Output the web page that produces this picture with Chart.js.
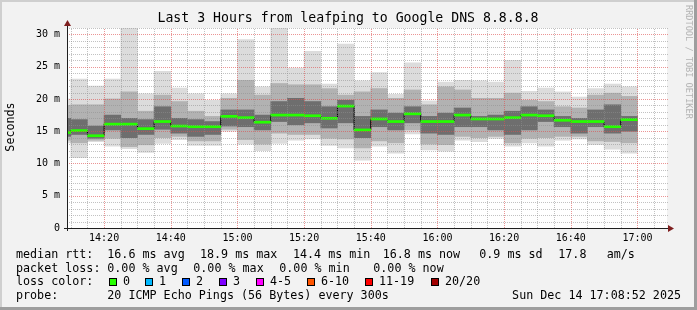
<!DOCTYPE html>
<html>
<head>
<meta charset="utf-8">
<script src="https://cdn.jsdelivr.net/npm/chart.js@4.4.1/dist/chart.umd.min.js"></script>
<style>
  html, body { margin: 0; padding: 0; background: #f2f2f2; }
  #wrap { width: 697px; height: 310px; }
</style>
</head>
<body>
<div id="wrap"><canvas id="smokeChart" width="697" height="310"></canvas></div>
<script>
// 5 minute slots (end time of each slot)
const slotEnds = ['14:10', '14:15', '14:20', '14:25', '14:30', '14:35', '14:40', '14:45', '14:50', '14:55',
    '15:00', '15:05', '15:10', '15:15', '15:20', '15:25', '15:30', '15:35', '15:40', '15:45',
    '15:50', '15:55', '16:00', '16:05', '16:10', '16:15', '16:20', '16:25', '16:30', '16:35',
    '16:40', '16:45', '16:50', '16:55', '17:00'];

// rtt in ms
const rttMedian = [14.8, 15.1, 14.3, 16.1, 16.1, 15.4, 16.5, 15.8, 15.7, 15.7, 17.3, 17.1, 16.4, 17.5, 17.5, 17.4, 17.0, 18.9, 15.2, 16.9,
    16.5, 17.7, 16.5, 16.5, 17.5, 16.9, 16.9, 17.1, 17.5, 17.4, 16.7, 16.5, 16.5, 15.7, 16.8];
const rttMax = [20.0, 23.1, 22.0, 23.1, 31.0, 20.8, 24.3, 21.7, 20.8, 19.8, 20.8, 29.2, 21.9, 31.0, 24.8, 27.4, 22.3, 28.5, 22.8, 24.1,
    20.7, 25.6, 19.7, 22.6, 22.9, 22.8, 22.6, 26.0, 21.2, 21.7, 21.1, 20.3, 21.6, 22.3, 21.9];
const rttP90 = [19.0, 19.1, 19.1, 20.0, 21.1, 18.1, 20.6, 19.6, 18.1, 17.3, 20.1, 22.9, 20.6, 22.4, 22.2, 22.2, 21.6, 20.6, 21.1, 21.6,
    20.1, 21.4, 19.1, 21.9, 21.4, 20.1, 20.1, 20.9, 19.8, 19.6, 18.8, 18.6, 20.6, 20.9, 20.4];
const rttP75 = [17.0, 16.8, 15.8, 17.5, 17.0, 16.8, 18.8, 17.0, 16.8, 16.5, 18.3, 18.3, 17.5, 19.6, 20.1, 19.6, 18.8, 19.8, 17.3, 18.3,
    17.8, 18.8, 17.3, 17.8, 18.6, 17.3, 17.5, 18.1, 18.8, 18.3, 17.3, 17.0, 18.3, 19.1, 17.3];
const rttP25 = [14.2, 14.5, 13.9, 15.2, 14.0, 14.5, 15.3, 14.7, 14.2, 14.5, 15.8, 15.7, 15.2, 16.5, 16.0, 16.3, 15.5, 16.3, 14.0, 15.7,
    15.2, 16.3, 14.7, 14.5, 15.7, 15.7, 15.2, 14.5, 15.2, 16.5, 15.7, 14.7, 15.7, 14.7, 15.0];
const rttP10 = [13.6, 13.2, 13.6, 13.9, 12.6, 12.9, 14.0, 14.2, 13.5, 13.5, 15.3, 13.7, 13.0, 14.7, 14.5, 14.5, 13.9, 13.8, 12.4, 13.5,
    13.2, 15.2, 13.0, 12.9, 14.2, 14.0, 14.2, 13.2, 13.9, 14.0, 14.2, 14.2, 13.5, 13.4, 13.2];
const rttMin = [13.2, 10.9, 13.4, 12.7, 12.3, 11.7, 13.1, 13.7, 12.8, 12.8, 15.0, 13.0, 12.0, 13.1, 13.6, 13.8, 12.8, 12.4, 10.5, 12.7,
    11.6, 14.6, 12.1, 11.9, 13.6, 13.4, 13.9, 12.7, 13.2, 12.7, 13.6, 13.8, 12.9, 12.2, 11.6];

const xTickLabels = ['14:20', '14:40', '15:00', '15:20', '15:40', '16:00', '16:20', '16:40', '17:00'];
const yTickLabels = ['0', '5 m', '10 m', '15 m', '20 m', '25 m', '30 m'];

const lossLabels = ['0', '1', '2', '3', '4-5', '6-10', '11-19', '20/20'];
const lossColors = ['#26ff00', '#00b8ff', '#0059ff', '#7e00ff', '#ff00ff', '#ff5500', '#ff0000', '#a10000'];
const rttStats = ['16.6 ms avg', '18.9 ms max', '14.4 ms min', '16.8 ms now', '0.9 ms sd', '17.8', 'am/s'];
const lossStats = ['0.00 % avg', '0.00 % max', '0.00 % min', '0.00 % now'];
const probeText = '20 ICMP Echo Pings (56 Bytes) every 300s';
const stampText = 'Sun Dec 14 17:08:52 2025';
const titleText = 'Last 3 Hours from leafping to Google DNS 8.8.8.8';

const MONO = '"DejaVu Sans Mono", "Liberation Mono", monospace';
const GRID = 'rgba(143,143,143,0.55)';
const MGRID = 'rgba(222,79,79,0.6)';

// minutes since 14:00
const toMin = s => {
    const [h, m] = s.split(':').map(Number);
    return (h - 14) * 60 + m;
};
const START = toMin('14:08') + 52 / 60;
const END = START + 180;
const centers = slotEnds.map(s => toMin(s) - 2.5);
const band = (lo, hi) => centers.map((x, i) => ({ x, y: [lo[i], hi[i]] }));

const smokeBar = (data, color, order) => ({
    type: 'bar',
    data,
    backgroundColor: color,
    borderWidth: 0,
    grouped: false,
    barPercentage: 1,
    categoryPercentage: 1,
    order
});

// rrdtool look: frame, dotted grid over the smoke, axes, title and text legend
const rrdFrame = {
    id: 'rrdFrame',
    beforeDraw(chart) {
        const { ctx, chartArea: a } = chart;
        ctx.save();
        ctx.fillStyle = '#f2f2f2';
        ctx.fillRect(0, 0, 697, 310);
        ctx.fillStyle = '#cfcfcf';
        ctx.fillRect(0, 0, 697, 2);
        ctx.fillRect(0, 0, 2, 310);
        ctx.fillStyle = '#9e9e9e';
        ctx.fillRect(0, 307, 697, 3);
        ctx.fillRect(694, 0, 3, 310);
        ctx.fillStyle = '#ffffff';
        ctx.fillRect(a.left, a.top, a.right - a.left, a.bottom - a.top);
        ctx.restore();
    },
    afterDatasetsDraw(chart) {
        const { ctx, chartArea: a, scales: { x, y } } = chart;
        ctx.save();
        ctx.lineWidth = 1;
        ctx.setLineDash([1, 1]);
        x.ticks.forEach(t => {
            const px = Math.round(x.getPixelForValue(t.value)) + 0.5;
            ctx.strokeStyle = t.value % 20 === 0 ? MGRID : GRID;
            ctx.beginPath();
            ctx.moveTo(px, a.bottom);
            ctx.lineTo(px, a.top);
            ctx.stroke();
        });
        y.ticks.forEach(t => {
            if (t.value === 0) return;
            const py = Math.round(y.getPixelForValue(t.value)) + 0.5;
            ctx.strokeStyle = t.value % 5 === 0 ? MGRID : GRID;
            ctx.beginPath();
            ctx.moveTo(a.left, py);
            ctx.lineTo(a.right + 1, py);
            ctx.stroke();
        });
        ctx.restore();
    },
    afterDraw(chart) {
        const { ctx, chartArea: a } = chart;
        ctx.save();

        // axes + arrows
        ctx.strokeStyle = '#1f1f1f';
        ctx.lineWidth = 1;
        ctx.beginPath();
        ctx.moveTo(a.left + 0.5, a.bottom + 3);
        ctx.lineTo(a.left + 0.5, a.top - 5);
        ctx.moveTo(a.left - 3, a.bottom + 0.5);
        ctx.lineTo(a.right + 3, a.bottom + 0.5);
        ctx.stroke();
        ctx.fillStyle = '#7f1f1f';
        ctx.beginPath();
        ctx.moveTo(a.left + 0.5, a.top - 8);
        ctx.lineTo(a.left - 3, a.top - 2);
        ctx.lineTo(a.left + 4, a.top - 2);
        ctx.fill();
        ctx.beginPath();
        ctx.moveTo(a.right + 7, a.bottom + 0.5);
        ctx.lineTo(a.right + 1, a.bottom - 3);
        ctx.lineTo(a.right + 1, a.bottom + 4);
        ctx.fill();

        ctx.fillStyle = '#000';
        ctx.textBaseline = 'middle';

        // title
        ctx.font = '13.2px ' + MONO;
        ctx.textAlign = 'center';
        ctx.fillText(titleText, 348, 19);

        // y axis title
        ctx.font = '11.7px ' + MONO;
        ctx.save();
        ctx.translate(11, 127);
        ctx.rotate(-Math.PI / 2);
        ctx.fillText('Seconds', 0, 0);
        ctx.restore();

        // watermark
        ctx.save();
        ctx.fillStyle = '#b4b4b4';
        ctx.font = '8.6px ' + MONO;
        ctx.textAlign = 'left';
        ctx.translate(688, 5);
        ctx.rotate(Math.PI / 2);
        ctx.fillText('RRDTOOL / TOBI OETIKER', 0, 0);
        ctx.restore();

        // legend
        ctx.font = '11.7px ' + MONO;
        ctx.textAlign = 'left';
        const put = (txt, x, y) => ctx.fillText(txt, x, y);

        put('median rtt:', 16, 255);
        [107.3, 200, 293, 382.7, 479.3, 558.3, 606.7].forEach((x, i) => put(rttStats[i], x, 255));

        put('packet loss:', 16, 268.5);
        [107.3, 193.3, 279.3, 373.3].forEach((x, i) => put(lossStats[i], x, 268.5));

        put('loss color:', 16, 282);
        const boxX = [109, 145, 182, 219, 256, 307, 365, 431];
        boxX.forEach((bx, i) => {
            ctx.fillStyle = lossColors[i];
            ctx.fillRect(bx, 278, 8, 8);
            ctx.strokeStyle = '#000';
            ctx.strokeRect(bx + 0.5, 278.5, 7, 7);
            ctx.fillStyle = '#000';
            put(lossLabels[i], bx + 14, 282);
        });

        put('probe:', 16, 296);
        put(probeText, 107.3, 296);
        ctx.textAlign = 'right';
        put(stampText, 681, 296);

        ctx.restore();
    }
};

const ctx = document.getElementById('smokeChart').getContext('2d');

new Chart(ctx, {
    data: {
        datasets: [
            smokeBar(centers.map((x, i) => ({ x, y: [rttMedian[i] - 0.16, rttMedian[i] + 0.16] })), '#26ff00', 0),
            {
                type: 'line',
                data: centers.map((x, i) => ({ x, y: rttMedian[i] })),
                borderColor: '#000000',
                borderWidth: 1,
                pointRadius: 0,
                stepped: 'middle',
                order: 1
            },
            smokeBar(band(rttP25, rttP75), '#6e6e6e', 2),
            smokeBar(band(rttP10, rttP90), '#b2b2b2', 3),
            smokeBar(band(rttMin, rttMax), '#dcdcdc', 4)
        ]
    },
    plugins: [rrdFrame],
    options: {
        responsive: false,
        devicePixelRatio: 1,
        animation: false,
        events: [],
        layout: { padding: { left: 0, top: 28, right: 30, bottom: 0 } },
        plugins: {
            legend: { display: false },
            tooltip: { enabled: false },
            title: { display: false }
        },
        scales: {
            x: {
                type: 'linear',
                offset: false,
                min: START,
                max: END,
                afterFit: scale => { scale.height = 82; },
                afterBuildTicks: scale => {
                    const ticks = [];
                    for (let m = 10; m <= 185; m += 5) ticks.push({ value: m });
                    scale.ticks = ticks;
                },
                ticks: {
                    autoSkip: false,
                    maxRotation: 0,
                    padding: 4,
                    color: '#000',
                    font: { family: MONO, size: 10 },
                    callback: value => {
                        const hit = xTickLabels.find(l => toMin(l) === value);
                        return hit || '';
                    }
                },
                grid: { display: false, offset: false, drawTicks: false },
                border: { display: false }
            },
            y: {
                min: 0,
                max: 31,
                afterFit: scale => { scale.width = 67; },
                ticks: {
                    stepSize: 1,
                    autoSkip: false,
                    padding: 7,
                    color: '#000',
                    font: { family: MONO, size: 10 },
                    callback: value => value % 5 === 0 ? yTickLabels[value / 5] : ''
                },
                grid: { display: false, drawTicks: false },
                border: { display: false }
            }
        }
    }
});
</script>
</body>
</html>
